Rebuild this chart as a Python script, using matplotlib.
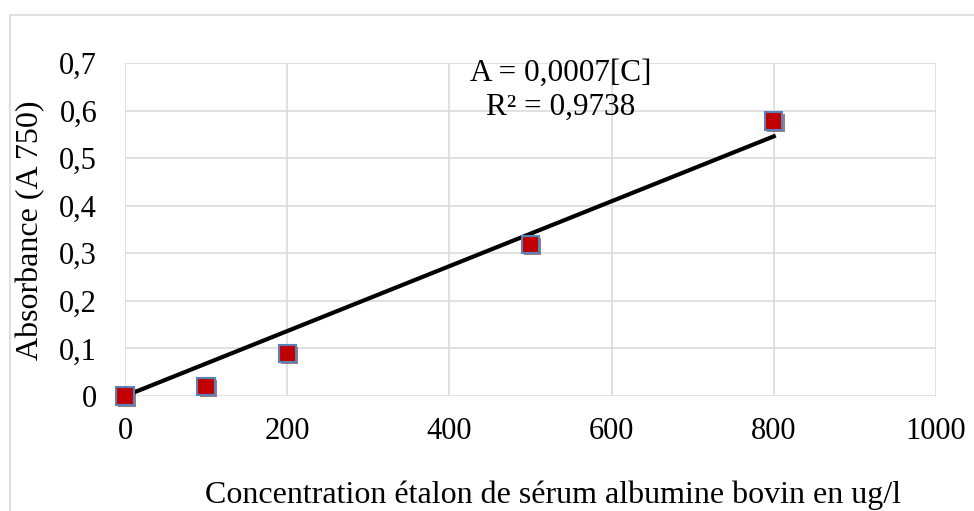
import numpy as np
import matplotlib
matplotlib.use("Agg")
import matplotlib.pyplot as plt
import matplotlib.patheffects as pe
from matplotlib.patches import Rectangle
from matplotlib.ticker import FuncFormatter

# BSA standard curve (Lowry, A750)
conc = [0, 100, 200, 500, 800]
absorbance = [0.0, 0.02, 0.09, 0.318, 0.578]
r2_label = "0,9738"

x_ticks = [0, 200, 400, 600, 800, 1000]
y_ticks = [0, 0.1, 0.2, 0.3, 0.4, 0.5, 0.6, 0.7]

# linear fit forced through the origin
x = np.array(conc, dtype=float)
y = np.array(absorbance, dtype=float)
slope = (x * y).sum() / (x * x).sum()

plt.rcParams["font.family"] = ["Liberation Serif", "DejaVu Serif"]
grid_col = "#d9d9d9"
W, H = 974, 511

fig = plt.figure(figsize=(W / 100, H / 100), dpi=100)
ax = fig.add_axes([125 / W, 1 - 396 / H, (936 - 125) / W, (396 - 63) / H])

# chart frame
fig.patches.append(Rectangle((10 / W, -0.05), 1.1, 0.05 + 1 - 15 / H,
                             transform=fig.transFigure, fill=False,
                             edgecolor=grid_col, linewidth=1.2, clip_on=False))

ax.set_xlim(0, 1000)
ax.set_ylim(0, 0.7)
ax.set_xticks(x_ticks)
ax.set_yticks(y_ticks)
ax.grid(True, color=grid_col, linewidth=1.1)
ax.set_axisbelow(True)
for s in ax.spines.values():
    s.set_visible(False)
ax.tick_params(length=0, labelsize=22)
ax.tick_params(axis="x", pad=15)
ax.tick_params(axis="y", pad=20)
ax.yaxis.set_major_formatter(FuncFormatter(lambda v, p: f"{v:g}".replace(".", ",")))

xfit = np.array([0, max(conc)])
ax.plot(xfit, slope * xfit, color="black", linewidth=3, zorder=3, clip_on=False)

ax.plot(conc, absorbance, linestyle="none", marker="s", markersize=12.5,
        markerfacecolor="#c00000", markeredgecolor="#5a82b8", markeredgewidth=1.5,
        zorder=4, clip_on=False,
        path_effects=[pe.SimplePatchShadow(offset=(1.5, -1.5), alpha=0.5), pe.Normal()])

# trendline equation, placed in axes fractions
eq = f"A = {np.round(slope, 4):.4f}".replace(".", ",") + "[C]"
ax.text((561 - 125) / 811, (396 - 81) / 333, eq, fontsize=22.5,
        ha="center", va="baseline", transform=ax.transAxes)
ax.text((561 - 125) / 811, (396 - 115) / 333, "R² = " + r2_label, fontsize=22.5,
        ha="center", va="baseline", transform=ax.transAxes)

fig.text(45 / W, 1 - 230 / H, "Absorbance (A 750)", rotation=90,
         fontsize=23, ha="right", va="center")
fig.text(205 / W, 1 - 503 / H,
         "Concentration étalon de sérum albumine bovin en ug/l",
         fontsize=23, ha="left", va="baseline")

fig.savefig("out.png", dpi=100)
plt.close(fig)
